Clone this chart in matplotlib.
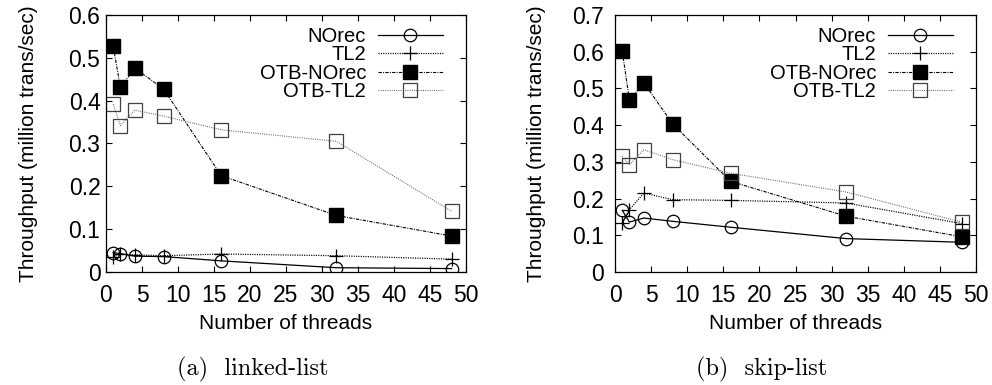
import matplotlib
matplotlib.use("Agg")
import matplotlib.pyplot as plt
from matplotlib.ticker import FormatStrFormatter, MultipleLocator

plt.rcParams['font.family'] = ['Liberation Sans', 'DejaVu Sans']
plt.rcParams['lines.scale_dashes'] = False

threads = [1, 2, 4, 8, 16, 32, 48]
series_names = ['NOrec', 'TL2', 'OTB-NOrec', 'OTB-TL2']

# (a) linked-list, million trans/sec
ll_norec = [0.045, 0.043, 0.037, 0.036, 0.026, 0.010, 0.008]
ll_tl2 = [0.036, 0.041, 0.040, 0.038, 0.042, 0.038, 0.030]
ll_otb_norec = [0.527, 0.431, 0.476, 0.427, 0.225, 0.132, 0.084]
ll_otb_tl2 = [0.392, 0.342, 0.378, 0.364, 0.332, 0.305, 0.142]

# (b) skip-list
sl_norec = [0.168, 0.136, 0.147, 0.138, 0.122, 0.091, 0.081]
sl_tl2 = [0.134, 0.170, 0.215, 0.197, 0.195, 0.188, 0.132]
sl_otb_norec = [0.602, 0.468, 0.515, 0.403, 0.247, 0.152, 0.096]
sl_otb_tl2 = [0.315, 0.292, 0.333, 0.306, 0.269, 0.218, 0.136]

styles = [
    dict(color='black', lw=0.9, ls='-', marker='o', ms=9, mfc='none', mec='black', mew=0.9),
    dict(color='black', lw=0.9, dashes=(0.8, 0.9), marker='+', ms=10, mec='black', mew=0.9),
    dict(color='black', lw=0.8, dashes=(2.4, 0.9, 0.7, 0.9), marker='s', ms=10.5, mfc='black', mec='black'),
    dict(color='0.4', lw=0.8, dashes=(0.7, 0.9), marker='s', ms=9.5, mfc='none', mec='0.25', mew=0.9),
]

fig = plt.figure(figsize=(9.92, 3.85), dpi=100)
ax1 = fig.add_axes([106/992, 1 - 272/385, 360/992, 257/385])
ax2 = fig.add_axes([615/992, 1 - 272/385, 361/992, 257/385])

panels = [
    (ax1, [ll_norec, ll_tl2, ll_otb_norec, ll_otb_tl2], 0.6, 4, -0.19),
    (ax2, [sl_norec, sl_tl2, sl_otb_norec, sl_otb_tl2], 0.7, 8, -0.19),
]

for ax, data, ymax, ypad, ylab_x in panels:
    for name, vals, st in zip(series_names, data, styles):
        ax.plot(threads, vals, label=name, **st)
    ax.set_xlim(0, 50)
    ax.set_ylim(0, ymax)
    ax.xaxis.set_major_locator(MultipleLocator(5))
    ax.yaxis.set_major_locator(MultipleLocator(0.1))
    ax.yaxis.set_major_formatter(FormatStrFormatter('%g'))
    ax.tick_params(direction='in', top=True, right=True, length=4, width=0.8,
                   labelsize=16.5)
    ax.tick_params(axis='x', pad=9)
    ax.tick_params(axis='y', pad=ypad)
    for sp in ax.spines.values():
        sp.set_linewidth(0.9)
    ax.set_xlabel('Number of threads', fontsize=15)
    ax.set_ylabel('Throughput (million trans/sec)', fontsize=15)
    ax.xaxis.set_label_coords(0.5, -0.165)
    ax.yaxis.set_label_coords(ylab_x, 0.5)
    ax.legend(loc='upper right', bbox_to_anchor=(0.935, 0.955), frameon=False,
              markerfirst=False, fontsize=14.5, handlelength=3.2,
              handletextpad=0.6, labelspacing=-0.02, borderpad=0,
              borderaxespad=0)

fig.text(253/992, 1 - 369/385, '(a)  linked-list', family='cmr10',
         fontsize=17.5, ha='center', va='center')
fig.text(762/992, 1 - 369/385, '(b)  skip-list', family='cmr10',
         fontsize=17.5, ha='center', va='center')

fig.savefig('out.png', dpi=100)
